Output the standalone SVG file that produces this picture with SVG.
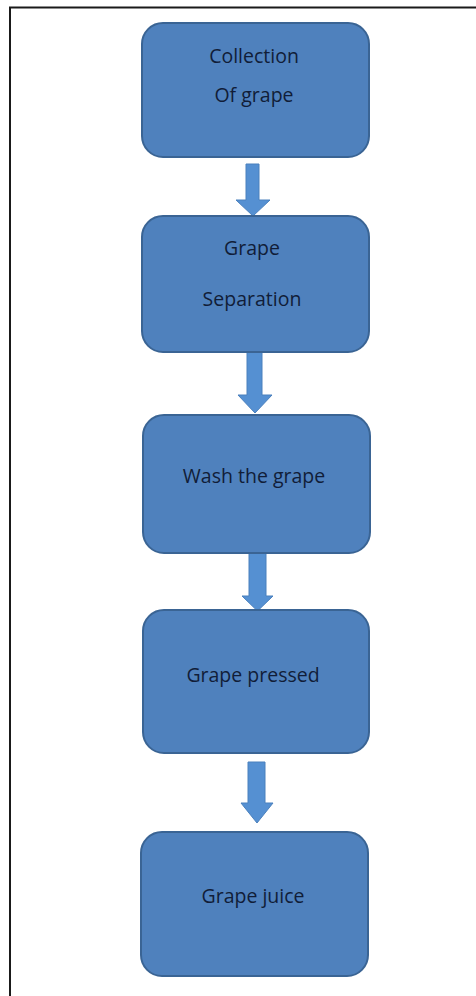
<svg xmlns="http://www.w3.org/2000/svg" width="476" height="996" viewBox="0 0 476 996">
  <style>
    .box { fill: #4f81bd; stroke: #3a6494; stroke-width: 2; }
    .arrow { fill: #5590d2; stroke: #4a80bd; stroke-width: 1; }
    .lbl { font-family: "Open Sans", "Liberation Sans", sans-serif; font-size: 19.5px; fill: #111d38; text-anchor: middle; }
    .frame { stroke: #1a1a1a; stroke-width: 2; fill: none; }
  </style>
  <rect x="0" y="0" width="476" height="996" fill="#ffffff"/>
  <path class="frame" d="M10,996 V7.5 H476"/>

  <g id="connectors">
    <path class="arrow" d="M246,164 H259 V200 H270 L253,216 L236,200 H246 Z"/>
    <path class="arrow" d="M247,352 H262 V395 H272 L255,413 L238,395 H247 Z"/>
    <path class="arrow" d="M249,553 H266 V596 H273 L257.5,611 L242,596 H249 Z"/>
    <path class="arrow" d="M248,762 H265 V803 H273 L257,823 L241,803 H248 Z"/>
  </g>

  <g id="node-collection">
    <rect class="box" x="142" y="23" width="227" height="134" rx="21"/>
    <text class="lbl" x="254" y="63">Collection</text>
    <text class="lbl" x="254" y="102">Of grape</text>
  </g>
  <g id="node-separation">
    <rect class="box" x="142" y="216" width="227" height="136" rx="21"/>
    <text class="lbl" x="252" y="255">Grape</text>
    <text class="lbl" x="252" y="306">Separation</text>
  </g>
  <g id="node-wash">
    <rect class="box" x="143" y="415" width="227" height="138" rx="21"/>
    <text class="lbl" x="254" y="483">Wash the grape</text>
  </g>
  <g id="node-pressed">
    <rect class="box" x="143" y="610" width="226" height="143" rx="21"/>
    <text class="lbl" x="253" y="682">Grape pressed</text>
  </g>
  <g id="node-juice">
    <rect class="box" x="141" y="832" width="227" height="144" rx="21"/>
    <text class="lbl" x="253" y="903">Grape juice</text>
  </g>
</svg>
